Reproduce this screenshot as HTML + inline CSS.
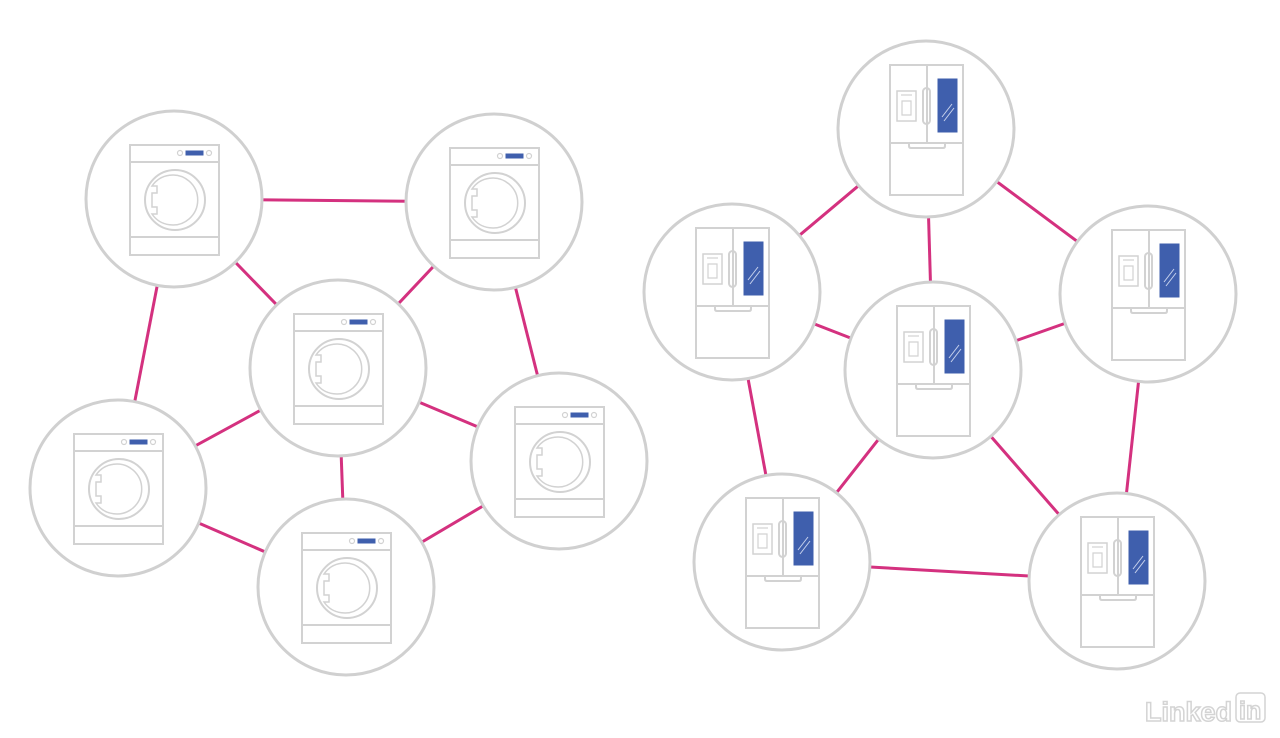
<!DOCTYPE html>
<html><head><meta charset="utf-8"><style>
html,body{margin:0;padding:0;background:#fff;width:1280px;height:738px;overflow:hidden}
</style></head><body>
<svg width="1280" height="738" viewBox="0 0 1280 738" xmlns="http://www.w3.org/2000/svg">
<defs>
<g id="w" fill="none" stroke="#d2d2d2" stroke-width="2">
<circle r="88" fill="#fff" stroke="#d0d0d0" stroke-width="3"/>
<rect x="-44" y="-54" width="89" height="110"/>
<line x1="-44" y1="-37" x2="45" y2="-37"/>
<line x1="-44" y1="38" x2="45" y2="38"/>
<circle cx="1" cy="1" r="30"/>
<path d="M-22,-13 A25,25 0 1 1 -22,15 L-17,15 L-17,8 L-22,8 L-22,-6 L-17,-6 L-17,-13 Z" stroke-width="1.5"/>
<circle cx="6" cy="-46" r="2.5" stroke-width="1.2"/>
<circle cx="35" cy="-46" r="2.5" stroke-width="1.2"/>
<rect x="12" y="-48" width="17" height="4" fill="#3f5fad" stroke="#3f5fad" stroke-width="1"/>
</g>
<g id="f" fill="none" stroke="#d2d2d2" stroke-width="2">
<circle r="88" fill="#fff" stroke="#d0d0d0" stroke-width="3"/>
<rect x="-36" y="-64" width="73" height="130"/>
<line x1="1" y1="-64" x2="1" y2="14"/>
<line x1="-36" y1="14" x2="37" y2="14"/>
<path d="M-17,14 v3 q0,2 2,2 h32 q2,0 2,-2 v-3"/>
<rect x="-3" y="-41" width="7" height="36" rx="3.5"/>
<rect x="-29" y="-38" width="19" height="30" stroke-width="1.5"/>
<path d="M-24,-28 h9 v14 h-9 z" stroke-width="1.2"/>
<line x1="-25" y1="-34" x2="-14" y2="-34" stroke-width="1.2"/>
<rect x="12" y="-50" width="19" height="53" fill="#3f5fad" stroke="#3f5fad" stroke-width="1"/>
<line x1="16" y1="-12" x2="26" y2="-25" stroke="#c8d2ec" stroke-width="1"/>
<line x1="18" y1="-8" x2="28" y2="-21" stroke="#c8d2ec" stroke-width="1"/>
</g>
</defs>
<g stroke="#d4317f" stroke-width="3">
<line x1="174" y1="199" x2="494" y2="202"/>
<line x1="174" y1="199" x2="338" y2="368"/>
<line x1="494" y1="202" x2="338" y2="368"/>
<line x1="174" y1="199" x2="118" y2="488"/>
<line x1="494" y1="202" x2="559" y2="461"/>
<line x1="338" y1="368" x2="118" y2="488"/>
<line x1="338" y1="368" x2="559" y2="461"/>
<line x1="338" y1="368" x2="346" y2="587"/>
<line x1="118" y1="488" x2="346" y2="587"/>
<line x1="559" y1="461" x2="346" y2="587"/>
<line x1="926" y1="129" x2="732" y2="292"/>
<line x1="926" y1="129" x2="933" y2="370"/>
<line x1="926" y1="129" x2="1148" y2="294"/>
<line x1="732" y1="292" x2="933" y2="370"/>
<line x1="933" y1="370" x2="1148" y2="294"/>
<line x1="732" y1="292" x2="782" y2="562"/>
<line x1="1148" y1="294" x2="1117" y2="581"/>
<line x1="933" y1="370" x2="782" y2="562"/>
<line x1="933" y1="370" x2="1117" y2="581"/>
<line x1="782" y1="562" x2="1117" y2="581"/>
</g>
<use href="#w" x="174" y="199"/>
<use href="#w" x="494" y="202"/>
<use href="#w" x="338" y="368"/>
<use href="#w" x="118" y="488"/>
<use href="#w" x="559" y="461"/>
<use href="#w" x="346" y="587"/>
<use href="#f" x="926" y="129"/>
<use href="#f" x="732" y="292"/>
<use href="#f" x="933" y="370"/>
<use href="#f" x="1148" y="294"/>
<use href="#f" x="782" y="562"/>
<use href="#f" x="1117" y="581"/>
<text x="1145" y="721" font-family="Liberation Sans, sans-serif" font-weight="bold" font-size="27" fill="none" stroke="#d4d4d4" stroke-width="1.5">Linked</text>
<rect x="1236" y="693" width="29" height="29" rx="4" fill="none" stroke="#d4d4d4" stroke-width="1.5"/>
<text x="1239" y="719" font-family="Liberation Sans, sans-serif" font-weight="bold" font-size="25" fill="none" stroke="#d4d4d4" stroke-width="1.5">in</text>
</svg>
</body></html>
